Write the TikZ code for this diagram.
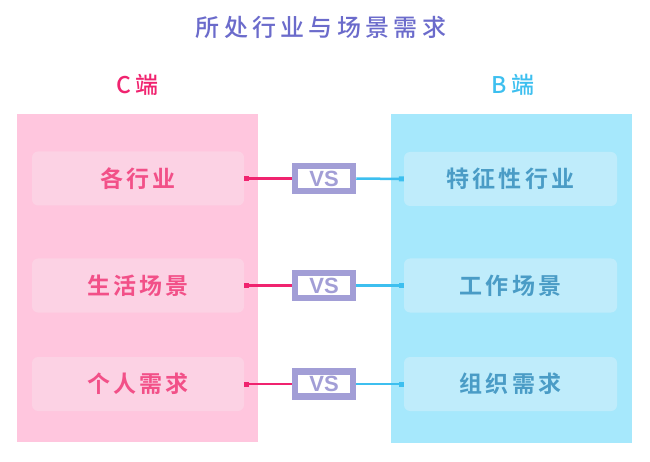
\documentclass[tikz,border=0pt]{standalone}
\usepackage{fontspec}
\usetikzlibrary{arrows.meta}
\newfontfamily\cjk[LetterSpace=18]{Noto Sans CJK SC Medium}
\newfontfamily\cjkbold[LetterSpace=14]{Noto Sans CJK SC Bold}
\newfontfamily\vsfont{Liberation Sans}
\definecolor{titlecol}{HTML}{6B6BCB}
\definecolor{ccol}{HTML}{F0236F}
\definecolor{bcol}{HTML}{3DBFEF}
\definecolor{cpanelcol}{HTML}{FFC6DE}
\definecolor{bpanelcol}{HTML}{A6E8FC}
\definecolor{citemcol}{HTML}{FCD2E4}
\definecolor{bitemcol}{HTML}{BFECFB}
\definecolor{ctextcol}{HTML}{F25088}
\definecolor{btextcol}{HTML}{4A9CC6}
\definecolor{vscol}{HTML}{A29ED6}
\tikzset{
    panel/.style={minimum width=241pt, minimum height=328pt, inner sep=0pt},
    citem/.style={fill=citemcol, rounded corners=6pt, minimum width=212pt, minimum height=54pt,
        text=ctextcol, font=\cjkbold\fontsize{23}{26}\selectfont},
    bitem/.style={fill=bitemcol, rounded corners=6pt, minimum width=213pt, minimum height=54pt,
        text=btextcol, font=\cjkbold\fontsize{23}{26}\selectfont},
    vsbox/.style={draw=vscol, line width=6.5pt, fill=white, minimum width=58pt, minimum height=25pt,
        inner sep=0pt, text=vscol, font=\vsfont\bfseries\fontsize{22}{22}\selectfont},
    clink/.style={draw=ccol, line width=2.5pt, {Square[length=5pt,width=5pt]}-},
    blink/.style={draw=bcol, line width=2.5pt, -{Square[length=5pt,width=5pt]}}
}
\begin{document}
\begin{tikzpicture}[x=1pt,y=-1pt]
\useasboundingbox (0,0) rectangle (650,462);
% title and column heads
\node[text=titlecol, font=\cjk\fontsize{24}{26}\selectfont] (title) at (321,27) {所处行业与场景需求};
\node[text=ccol, font=\cjk\fontsize{23}{26}\selectfont] (chead) at (137,85) {C端};
\node[text=bcol, font=\cjk\fontsize{23}{26}\selectfont] (bhead) at (513,85) {B端};
% panels
\node[panel, fill=cpanelcol] (cpanel) at (137.5,278) {};
\node[panel, fill=bpanelcol] (bpanel) at (511.5,278.5) {};
% items
\node[citem] (c1) at (138,178.5) {各行业};
\node[citem] (c2) at (138,285.5) {生活场景};
\node[citem] (c3) at (138,384) {个人需求};
\node[bitem] (b1) at (510.5,179) {特征性行业};
\node[bitem] (b2) at (510.5,285.5) {工作场景};
\node[bitem] (b3) at (510.5,384) {组织需求};
% vs boxes
\node[vsbox] (vs1) at (324,178.5) {VS};
\node[vsbox] (vs2) at (324,285.5) {VS};
\node[vsbox] (vs3) at (324,384) {VS};
% links
\foreach \i in {1,2,3} {
    \draw[clink] (c\i.east) -- (vs\i.west);
    \draw[blink] (vs\i.east) -- (b\i.west);
}
\end{tikzpicture}
\end{document}
